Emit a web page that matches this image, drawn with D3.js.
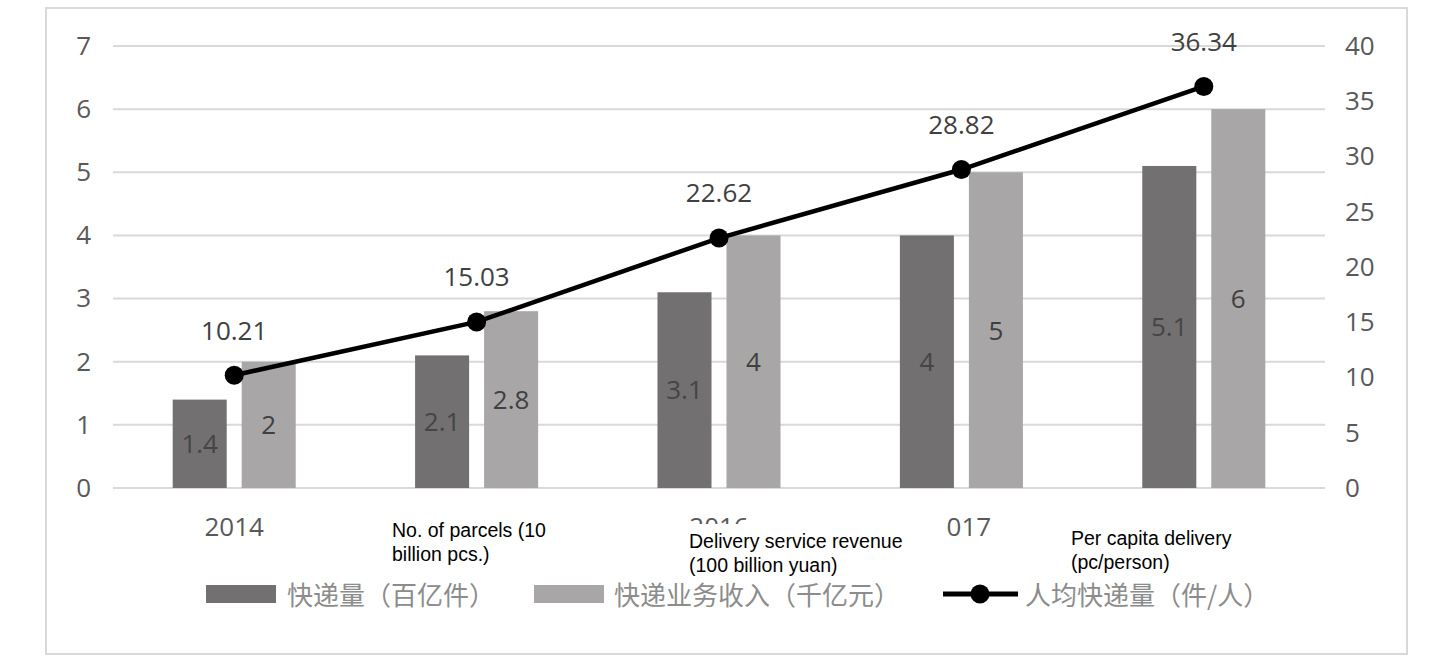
<!DOCTYPE html>
<html>
<head>
<meta charset="utf-8">
<script src="https://cdn.jsdelivr.net/npm/d3@7"></script>
<style>
  html, body { margin: 0; padding: 0; background: #ffffff; }
  svg { display: block; }
</style>
</head>
<body>
<script>
// ---------- data ----------
const years = ["2014", "2015", "2016", "2017", "2018"];
const parcels = [1.4, 2.1, 3.1, 4, 5.1];          // 快递量（百亿件）
const revenue = [2, 2.8, 4, 5, 6];                 // 快递业务收入（千亿元）
const perCapita = [10.21, 15.03, 22.62, 28.82, 36.34]; // 人均快递量（件/人）
const leftTicks = [0, 1, 2, 3, 4, 5, 6, 7];
const rightTicks = [0, 5, 10, 15, 20, 25, 30, 35, 40];
const seriesNames = ["快递量（百亿件）", "快递业务收入（千亿元）", "人均快递量（件/人）"];
const noteTexts = [
  ["No. of parcels (10", "billion pcs.)"],
  ["Delivery service revenue", "(100 billion yuan)"],
  ["Per capita delivery", "(pc/person)"]
];

// ---------- layout ----------
const W = 1439, H = 671;
const plot = { left: 113, right: 1325, top: 46, bottom: 488 };
const numFont = "'Open Sans', 'DejaVu Sans', sans-serif";
const cjkFont = "'Noto Sans CJK SC', 'Noto Sans', sans-serif";
const colDark = "#727071", colLight = "#a8a6a7";

const svg = d3.select("body").append("svg").attr("width", W).attr("height", H);

// frame
svg.append("rect").attr("x", 46).attr("y", 8).attr("width", 1361).attr("height", 646)
  .attr("fill", "#fff").attr("stroke", "#d9d9d9").attr("stroke-width", 2);

const x0 = d3.scaleBand().domain(years).range([plot.left, plot.right]).padding(0);
const x1 = d3.scaleBand().domain([0, 1]).range([0, x0.bandwidth()])
  .paddingInner(0.217).paddingOuter(0.865);
const yL = d3.scaleLinear().domain([0, 7]).range([plot.bottom, plot.top]);
const yR = d3.scaleLinear().domain([0, 40]).range([plot.bottom, plot.top]);

// gridlines
svg.append("g").selectAll("line").data(leftTicks).join("line")
  .attr("x1", plot.left).attr("x2", plot.right)
  .attr("y1", d => yL(d)).attr("y2", d => yL(d))
  .attr("stroke", "#d9d9d9").attr("stroke-width", 2);

// left axis
const axL = svg.append("g").attr("transform", `translate(${plot.left},0)`)
  .call(d3.axisLeft(yL).tickValues(leftTicks).tickSize(0).tickPadding(22).tickFormat(d3.format("d")));
axL.select(".domain").remove();
axL.selectAll("text").attr("font-family", numFont).attr("font-size", 26).attr("fill", "#595959");

// right axis
const axR = svg.append("g").attr("transform", `translate(${plot.right},0)`)
  .call(d3.axisRight(yR).tickValues(rightTicks).tickSize(0).tickPadding(20).tickFormat(d3.format("d")));
axR.select(".domain").remove();
axR.selectAll("text").attr("font-family", numFont).attr("font-size", 26).attr("fill", "#595959");

// bottom axis labels
const axB = svg.append("g").attr("transform", `translate(0,${plot.bottom})`)
  .call(d3.axisBottom(x0).tickSize(0).tickPadding(30));
axB.select(".domain").remove();
axB.selectAll("text").attr("font-family", numFont).attr("font-size", 26).attr("fill", "#595959");

// bars
const rows = years.map((y, i) => ({ year: y, vals: [parcels[i], revenue[i]] }));
const groups = svg.append("g").selectAll("g").data(rows).join("g")
  .attr("transform", d => `translate(${x0(d.year)},0)`);
groups.selectAll("rect").data(d => d.vals.map((v, k) => ({ k, v }))).join("rect")
  .attr("x", d => x1(d.k)).attr("width", x1.bandwidth())
  .attr("y", d => yL(d.v)).attr("height", d => yL(0) - yL(d.v))
  .attr("fill", d => d.k === 0 ? colDark : colLight);
groups.selectAll("text").data(d => d.vals.map((v, k) => ({ k, v }))).join("text")
  .attr("x", d => x1(d.k) + x1.bandwidth() / 2)
  .attr("y", d => (yL(d.v) + yL(0)) / 2)
  .attr("dy", "0.36em").attr("text-anchor", "middle")
  .attr("font-family", numFont).attr("font-size", 26)
  .attr("fill", d => d.k === 0 ? "#454545" : "#404040")
  .text(d => d.v);

// line
const cx = y => x0(y) + x0.bandwidth() / 2;
const line = d3.line().x((d, i) => cx(years[i])).y(d => yR(d));
svg.append("path").datum(perCapita).attr("d", line)
  .attr("fill", "none").attr("stroke", "#000").attr("stroke-width", 4.5);
svg.append("g").selectAll("circle").data(perCapita).join("circle")
  .attr("cx", (d, i) => cx(years[i])).attr("cy", d => yR(d)).attr("r", 9.5).attr("fill", "#000");
svg.append("g").selectAll("text").data(perCapita).join("text")
  .attr("x", (d, i) => cx(years[i])).attr("y", d => yR(d) - 45)
  .attr("dy", "0.36em").attr("text-anchor", "middle")
  .attr("font-family", numFont).attr("font-size", 26).attr("fill", "#404040")
  .text(d => d3.format(".2f")(d));

// legend
const lg = svg.append("g");
const legY = 594;
const legX = [206, 534, 943];
const textX = [287, 614, 1025];
lg.append("rect").attr("x", legX[0]).attr("y", legY - 9).attr("width", 70).attr("height", 18).attr("fill", colDark);
lg.append("rect").attr("x", legX[1]).attr("y", legY - 9).attr("width", 70).attr("height", 18).attr("fill", colLight);
lg.append("line").attr("x1", legX[2]).attr("x2", legX[2] + 75).attr("y1", legY).attr("y2", legY)
  .attr("stroke", "#000").attr("stroke-width", 5);
lg.append("circle").attr("cx", legX[2] + 37).attr("cy", legY).attr("r", 9.5).attr("fill", "#000");
lg.selectAll("text").data(seriesNames).join("text")
  .attr("x", (d, i) => textX[i]).attr("y", legY + 2).attr("dy", "0.35em")
  .attr("font-family", cjkFont).attr("font-size", 26).attr("fill", "#8c8c8c")
  .text(d => d);

// overlay annotations (white boxes with English notes)
const noteBoxes = [
  { x: 385, y: 511, w: 178, h: 58, tx: 392, ty: 537 },
  { x: 680, y: 524, w: 264, h: 54, tx: 689, ty: 548 },
  { x: 1062, y: 516, w: 182, h: 58, tx: 1071, ty: 545 }
];
// extra white patch that hides the leading digit of the 2017 label, as in the reference
svg.append("rect").attr("x", 918).attr("y", 511).attr("width", 28).attr("height", 40).attr("fill", "#fff");
const notes = svg.append("g").selectAll("g").data(noteTexts).join("g");
notes.append("rect")
  .attr("x", (d, i) => noteBoxes[i].x).attr("y", (d, i) => noteBoxes[i].y)
  .attr("width", (d, i) => noteBoxes[i].w).attr("height", (d, i) => noteBoxes[i].h)
  .attr("fill", "#fff");
notes.each(function (d, i) {
  const t = d3.select(this).append("text")
    .attr("font-family", "'Liberation Sans', Arial, sans-serif")
    .attr("font-size", 19.5).attr("fill", "#000");
  d.forEach((ln, j) => {
    t.append("tspan").attr("x", noteBoxes[i].tx).attr("y", noteBoxes[i].ty + j * 23.5).text(ln);
  });
});
</script>
</body>
</html>
